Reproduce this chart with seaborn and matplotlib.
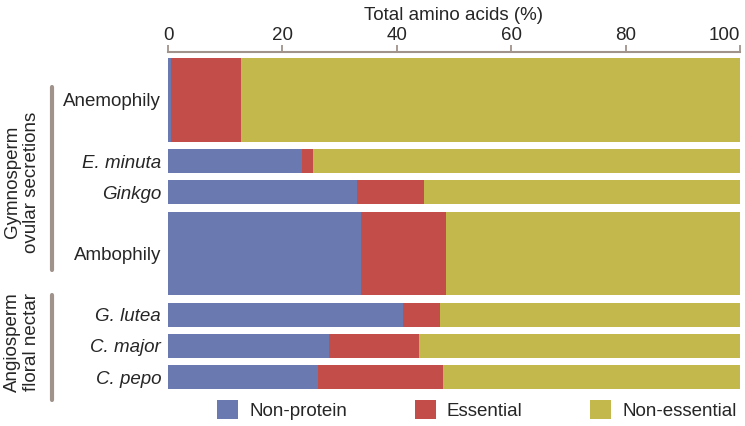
import pandas as pd
import matplotlib
matplotlib.use('Agg')
import matplotlib.pyplot as plt
from matplotlib.patches import Patch
from matplotlib.lines import Line2D
import seaborn as sns

# ---------------- data (% of total amino acids) ----------------
sources = ['Anemophily', 'E. minuta', 'Ginkgo', 'Ambophily', 'G. lutea', 'C. major', 'C. pepo']
italic_label = [False, True, True, False, True, True, True]
non_protein = [0.6, 23.4, 33.0, 33.7, 41.1, 28.1, 26.2]
essential = [12.2, 1.9, 11.8, 14.9, 6.5, 15.8, 21.9]
non_essential = [87.2, 74.7, 55.2, 51.4, 52.4, 56.1, 51.9]
series = ['Non-protein', 'Essential', 'Non-essential']
groups = ['Gymnosperm\novular secretions', 'Angiosperm\nfloral nectar']
xticks = [0, 20, 40, 60, 80, 100]

# ---------------- styling ----------------
colors = ['#6A7AB0', '#C24D49', '#C3B84B']
line_col = '#A0938B'
row_size = [3.5, 1, 1, 3.5, 1, 1, 1]   # pooled syndromes drawn thicker
gap = 0.305
top_pad = 0.25
fs = 13.5

sns.set_style('white')
plt.rcParams['font.family'] = ['Liberation Sans', 'DejaVu Sans']

df = pd.DataFrame({'source': sources,
                   'Non-protein': non_protein,
                   'Essential': essential,
                   'Non-essential': non_essential})
# stacked ends, drawn back to front
df['end_np'] = df['Non-protein']
df['end_ess'] = df['Non-protein'] + df['Essential']
df['end_all'] = df['end_ess'] + df['Non-essential']

# row geometry (y grows downwards)
tops = []
y = 0.0
for s in row_size:
    tops.append(y)
    y += s + gap
bottom_edge = tops[-1] + row_size[-1]
centers = [t + s / 2 for t, s in zip(tops, row_size)]

fig = plt.figure(figsize=(7.45, 4.26), dpi=100)
ax = fig.add_axes([168 / 745, 37 / 426, 572 / 745, 337 / 426])

for col, c in zip(['end_all', 'end_ess', 'end_np'], [colors[2], colors[1], colors[0]]):
    n0 = len(ax.patches)
    sns.barplot(data=df, x=col, y='source', color=c, orient='h',
                errorbar=None, linewidth=0, saturation=1, ax=ax)
    for i, p in enumerate(ax.patches[n0:]):
        p.set_y(tops[i])
        p.set_height(row_size[i])

ax.set_xlim(0, 100)
ax.set_ylim(bottom_edge, -top_pad)

# top axis only
for side in ['bottom', 'left', 'right']:
    ax.spines[side].set_visible(False)
ax.spines['top'].set_color(line_col)
ax.spines['top'].set_linewidth(1.5)
ax.xaxis.set_ticks_position('top')
ax.xaxis.set_label_position('top')
ax.set_xticks(xticks)
ax.tick_params(axis='x', direction='out', length=5, width=1.3, color=line_col,
               labelsize=fs, pad=1)
ax.get_xticklabels()[-1].set_ha('right')
ax.set_xlabel('Total amino acids (%)', fontsize=fs, labelpad=5)

ax.set_yticks(centers)
ax.set_yticklabels(sources, fontsize=fs)
ax.tick_params(axis='y', length=0, pad=5)
for lab, it in zip(ax.get_yticklabels(), italic_label):
    if it:
        lab.set_fontstyle('italic')
ax.set_ylabel('')

# group brackets and labels on the left
def fy(py):
    return 1 - py / 426

for txt, (y0, y1), yc in zip(groups, [(87, 270), (295, 400)], [182, 342]):
    fig.add_artist(Line2D([52 / 745, 52 / 745], [fy(y0), fy(y1)], color=line_col,
                          lw=3, transform=fig.transFigure))
    fig.text(22 / 745, fy(yc), txt, rotation=90, ha='center', va='center',
             multialignment='center', fontsize=fs, linespacing=1.15)

handles = [Patch(facecolor=c, edgecolor='none') for c in colors]
fig.legend(handles, series, loc='center left', bbox_to_anchor=(217 / 745, fy(410)),
           ncol=3, frameon=False, fontsize=fs, handlelength=1.12, handleheight=1.12,
           handletextpad=0.6, columnspacing=3.6, borderpad=0, borderaxespad=0)

fig.savefig('out.png', dpi=100)
